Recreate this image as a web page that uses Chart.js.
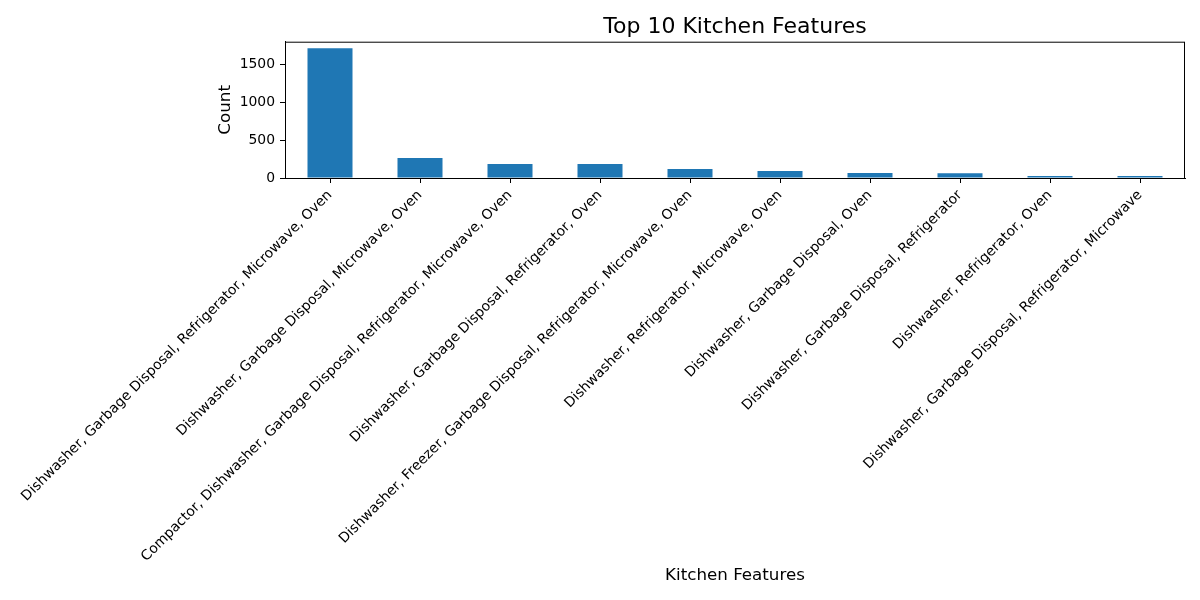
<!DOCTYPE html>
<html>
<head>
<meta charset="utf-8">
<script src="https://cdn.jsdelivr.net/npm/chart.js@4"></script>
<style>
  html, body { margin: 0; padding: 0; background: #fff; }
  #wrap { width: 1200px; height: 600px; }
</style>
</head>
<body>
<div id="wrap"><canvas id="chart" width="1200" height="600"></canvas></div>
<script>
// kitchen feature combos, sorted by count
const features = [
  'Dishwasher, Garbage Disposal, Refrigerator, Microwave, Oven',
  'Dishwasher, Garbage Disposal, Microwave, Oven',
  'Compactor, Dishwasher, Garbage Disposal, Refrigerator, Microwave, Oven',
  'Dishwasher, Garbage Disposal, Refrigerator, Oven',
  'Dishwasher, Freezer, Garbage Disposal, Refrigerator, Microwave, Oven',
  'Dishwasher, Refrigerator, Microwave, Oven',
  'Dishwasher, Garbage Disposal, Oven',
  'Dishwasher, Garbage Disposal, Refrigerator',
  'Dishwasher, Refrigerator, Oven',
  'Dishwasher, Garbage Disposal, Refrigerator, Microwave'
]
const counts = [1712, 265, 186, 184, 120, 92, 66, 64, 27, 25]
const yTicks = [0, 500, 1000, 1500]
const chartTitle = 'Top 10 Kitchen Features'

const font = 'DejaVu Sans'

// top + right spines, and the title centred over the axes like matplotlib
const frame = {
  id: 'frame',
  afterDraw(chart) {
    const { ctx, chartArea: a } = chart
    ctx.save()
    ctx.strokeStyle = '#000'
    ctx.lineWidth = 1
    ctx.strokeRect(a.left + 0.5, a.top + 0.5, a.right - a.left - 1, a.bottom - a.top)
    ctx.fillStyle = '#000'
    ctx.font = '22px "' + font + '"'
    ctx.textAlign = 'center'
    ctx.textBaseline = 'alphabetic'
    ctx.fillText(chartTitle, (a.left + a.right) / 2, a.top - 9)
    ctx.restore()
  }
}

new Chart(document.getElementById('chart').getContext('2d'), {
  type: 'bar',
  data: {
    labels: features,
    datasets: [{
      label: 'Count',
      data: counts,
      backgroundColor: '#1f77b4',
      borderWidth: 0,
      inflateAmount: 0,
      barPercentage: 0.5,
      categoryPercentage: 1.0
    }]
  },
  options: {
    responsive: false,
    animation: false,
    layout: { padding: { left: 208, right: 15, top: 41.7, bottom: 0 } },
    plugins: {
      legend: { display: false },
      tooltip: { enabled: false },
      title: { display: false }
    },
    scales: {
      x: {
        grid: { offset: false, drawOnChartArea: false, drawTicks: true, tickLength: 5, color: '#000' },
        border: { display: true, color: '#000', width: 1 },
        ticks: {
          autoSkip: false,
          minRotation: 45,
          maxRotation: 45,
          padding: 4,
          color: '#000',
          font: { family: font, size: 13.9 }
        },
        title: {
          display: true,
          text: 'Kitchen Features',
          color: '#000',
          font: { family: font, size: 16.7 },
          padding: { top: 0, bottom: 14 }
        },
        afterFit(s) {
          s.height = 422
          s.paddingLeft = 0
          s.paddingRight = 0
        }
      },
      y: {
        min: 0,
        max: Math.max(...counts) * 1.05,
        grid: { drawOnChartArea: false, drawTicks: true, tickLength: 5, color: '#000' },
        border: { display: true, color: '#000', width: 1 },
        ticks: {
          stepSize: 500,
          padding: 5,
          color: '#000',
          font: { family: font, size: 13.9 },
          callback: v => String(v)
        },
        afterBuildTicks(s) {
          s.ticks = yTicks.map(v => ({ value: v }))
        },
        title: {
          display: true,
          text: 'Count',
          color: '#000',
          font: { family: font, size: 16.7 },
          padding: { top: 8, bottom: 0 }
        },
        afterFit(s) {
          s.width = 77
          s.paddingTop = 0
        }
      }
    }
  },
  plugins: [frame]
})
</script>
</body>
</html>
